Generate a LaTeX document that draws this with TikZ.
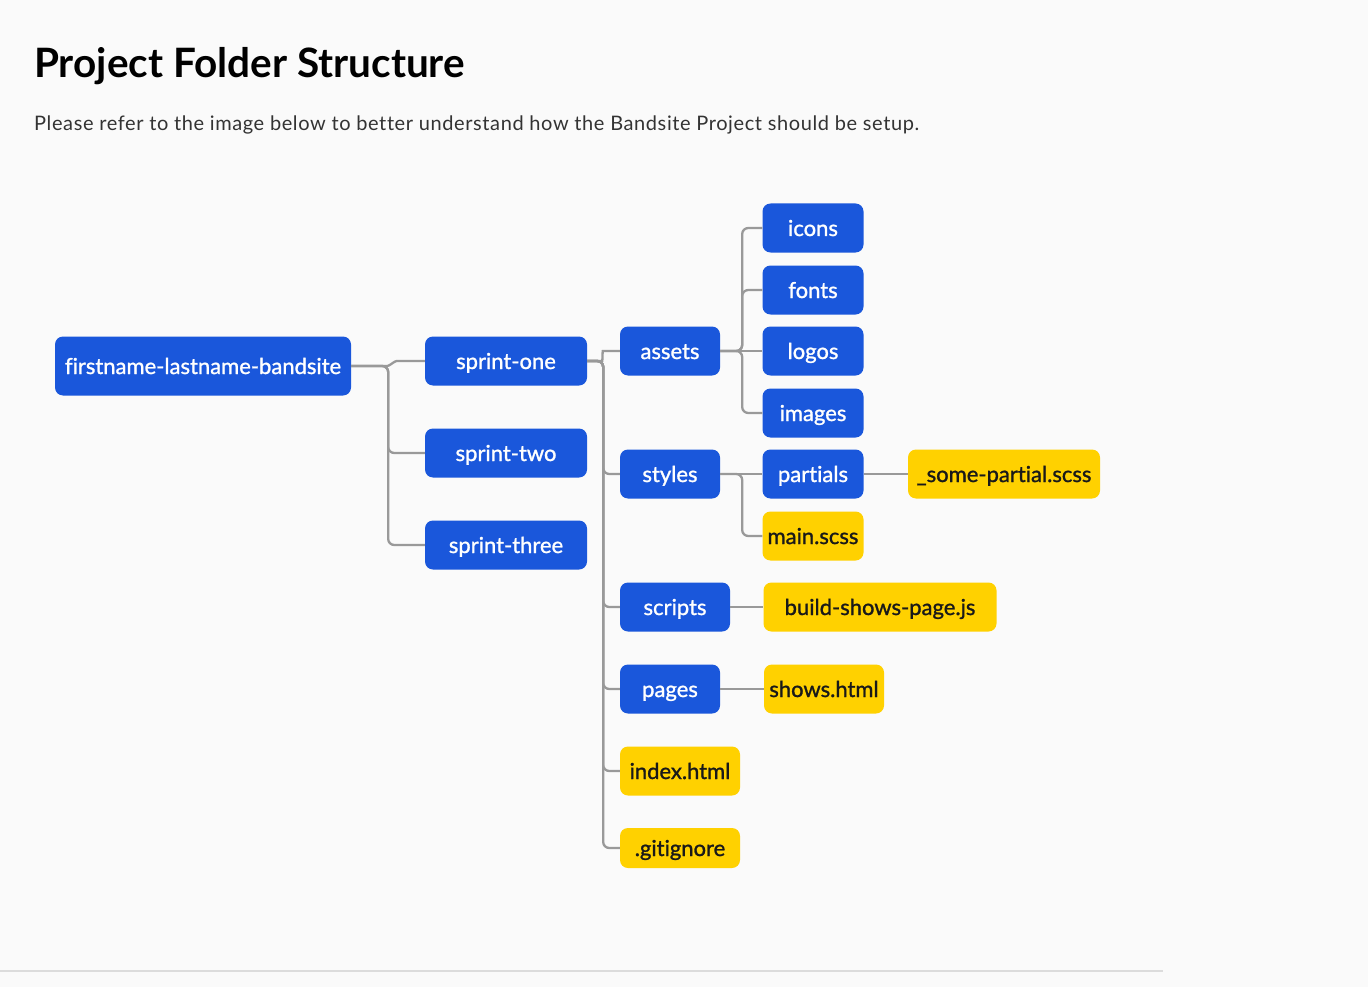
\documentclass[tikz,border=0pt]{standalone}
\usepackage{fontspec}
\setmainfont{Lato}
\newfontfamily\boxfont[FakeBold=1.2, Ligatures=CommonOff]{Lato}
\newfontfamily\introfont[LetterSpace=3, Ligatures=CommonOff]{Lato}

\definecolor{folderblue}{HTML}{1A57DB}
\definecolor{fileyellow}{HTML}{FFD100}
\definecolor{linkgrey}{HTML}{999999}
\definecolor{pagebg}{HTML}{FAFAFA}
\definecolor{rulegrey}{HTML}{DCDCDC}

\tikzset{
  folder/.style={fill=folderblue, text=white, rounded corners=8pt,
                 minimum height=49pt, inner sep=0pt,
                 text height=20pt, text depth=4pt,
                 font=\boxfont\fontsize{22}{26}\selectfont},
  file/.style={folder, fill=fileyellow, text=black!90},
  link/.style={draw=linkgrey, line width=2.3pt, rounded corners=6pt},
}

\begin{document}
\begin{tikzpicture}[x=1pt, y=-1pt]
\useasboundingbox[fill=pagebg] (0,0) rectangle (1368,987);
\draw[rulegrey, line width=2pt] (0,971) -- (1163,971);

% heading
\node[anchor=base west, inner sep=0pt, font=\bfseries\fontsize{40.5}{46}\selectfont] (title) at (34,78) {Project Folder Structure};
\node[anchor=base west, inner sep=0pt, font=\introfont\fontsize{20}{24}\selectfont, text=black!80] (intro) at (34,131)
  {Please refer to the image below to better understand how the Bandsite Project should be setup.};

% folders
\node[folder, minimum width=296pt, minimum height=59pt] (root) at (203,366) {firstname-lastname-bandsite};
\node[folder, minimum width=162pt] (one)   at (506,361) {sprint-one};
\node[folder, minimum width=162pt] (two)   at (506,453) {sprint-two};
\node[folder, minimum width=162pt] (three) at (506,545) {sprint-three};

\node[folder, minimum width=100pt] (assets)  at (670,351) {assets};
\node[folder, minimum width=100pt] (styles)  at (670,474) {styles};
\node[folder, minimum width=110pt] (scripts) at (675,607) {scripts};
\node[folder, minimum width=100pt] (pages)   at (670,689) {pages};
\node[file,   minimum width=120pt] (index)   at (680,771) {index.html};
\node[file,   minimum width=120pt, minimum height=40pt] (gitignore) at (680,848) {.gitignore};

\node[folder, minimum width=101pt] (icons)  at (813,228) {icons};
\node[folder, minimum width=101pt] (fonts)  at (813,290) {fonts};
\node[folder, minimum width=101pt] (logos)  at (813,351) {logos};
\node[folder, minimum width=101pt] (images) at (813,413) {images};

\node[folder, minimum width=101pt] (partials) at (813,474) {partials};
\node[file,   minimum width=101pt] (mainscss) at (813,536) {main.scss};
\node[file,   minimum width=192pt] (partial)  at (1004,474) {\_some-partial.scss};

\node[file, minimum width=233pt] (buildjs)   at (880,607) {build-shows-page.js};
\node[file, minimum width=120pt] (showshtml) at (824,689) {shows.html};

% connectors
\draw[link] (root.east) -- ++(30,0) to[out=0,in=180] ([xshift=-22pt]one.west) -- (one.west);
\draw[link] (root.east) -- ++(37,0) |- (two.west);
\draw[link] (root.east) -- ++(37,0) |- (three.west);

\draw[link] (one.east) -- ++(9,0) to[out=0,in=180] ([xshift=-11pt]assets.west) -- (assets.west);
\draw[link] (one.east) -- ++(16,0) |- (styles.west);
\draw[link] (one.east) -- ++(16,0) |- (scripts.west);
\draw[link] (one.east) -- ++(16,0) |- (pages.west);
\draw[link] (one.east) -- ++(16,0) |- (index.west);
\draw[link] (one.east) -- ++(16,0) |- (gitignore.west);

\draw[link] (assets.east) -- ++(22,0) |- (icons.west);
\draw[link] (assets.east) -- ++(22,0) |- (fonts.west);
\draw[link] (assets.east) -- (logos.west);
\draw[link] (assets.east) -- ++(22,0) |- (images.west);

\draw[link] (styles.east) -- (partials.west);
\draw[link] (styles.east) -- ++(22,0) |- (mainscss.west);
\draw[link] (partials.east) -- (partial.west);

\draw[link] (scripts.east) -- (buildjs.west);
\draw[link] (pages.east) -- (showshtml.west);
\end{tikzpicture}
\end{document}
